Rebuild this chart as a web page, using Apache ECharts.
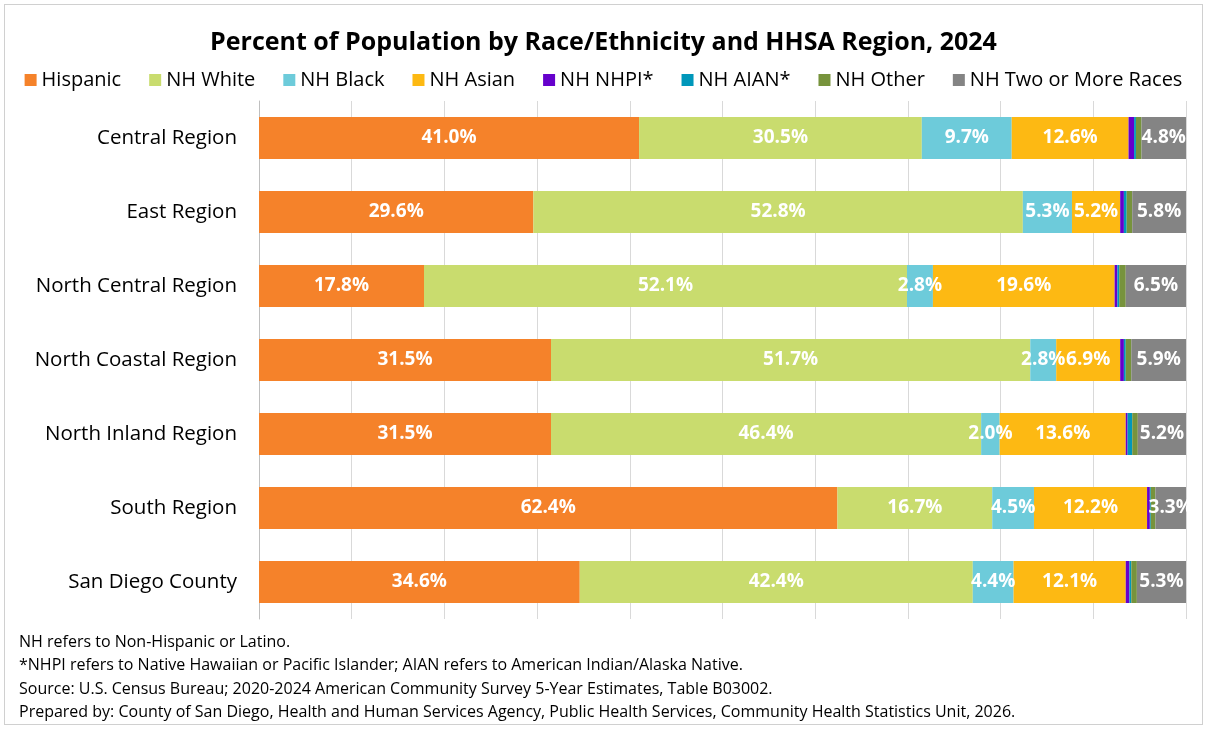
<!DOCTYPE html>
<html>
<head>
<meta charset="utf-8">
<style>
  html, body { margin: 0; padding: 0; background: #fff; }
  #chart { position: absolute; left: 4px; top: 4px; width: 1199px; height: 721px; border: 1px solid #d0d0d0; box-sizing: border-box; }
</style>
<script src="https://cdn.jsdelivr.net/npm/echarts@6/dist/echarts.min.js"></script>
</head>
<body>
<div id="chart"></div>
<script>
var categories = ['Central Region', 'East Region', 'North Central Region', 'North Coastal Region', 'North Inland Region', 'South Region', 'San Diego County'];
var hispanic = [41.0, 29.6, 17.8, 31.5, 31.5, 62.4, 34.6];
var nhWhite = [30.5, 52.8, 52.1, 51.7, 46.4, 16.7, 42.4];
var nhBlack = [9.7, 5.3, 2.8, 2.8, 2.0, 4.5, 4.4];
var nhAsian = [12.6, 5.2, 19.6, 6.9, 13.6, 12.2, 12.1];
var nhNhpi = [0.6, 0.4, 0.3, 0.4, 0.2, 0.3, 0.4];
var nhAian = [0.2, 0.3, 0.2, 0.2, 0.5, 0.1, 0.2];
var nhOther = [0.6, 0.6, 0.7, 0.6, 0.6, 0.5, 0.6];
var nhTwoPlus = [4.8, 5.8, 6.5, 5.9, 5.2, 3.3, 5.3];

var notes = [
    'NH refers to Non-Hispanic or Latino.',
    '*NHPI refers to Native Hawaiian or Pacific Islander; AIAN refers to American Indian/Alaska Native.',
    'Source: U.S. Census Bureau; 2020-2024 American Community Survey 5-Year Estimates, Table B03002.',
    'Prepared by: County of San Diego, Health and Human Services Agency, Public Health Services, Community Health Statistics Unit, 2026.'
];

var font = 'Open Sans';
var chart = echarts.init(document.getElementById('chart'));

var seriesDefs = [
    { name: 'Hispanic', data: hispanic, color: '#F5822A', label: true },
    { name: 'NH White', data: nhWhite, color: '#C9DC6E', label: true },
    { name: 'NH Black', data: nhBlack, color: '#6DCBDA', label: true },
    { name: 'NH Asian', data: nhAsian, color: '#FDB913', label: true },
    { name: 'NH NHPI*', data: nhNhpi, color: '#6600CC', label: false },
    { name: 'NH AIAN*', data: nhAian, color: '#0097BA', label: false },
    { name: 'NH Other', data: nhOther, color: '#77933C', label: false },
    { name: 'NH Two or More Races', data: nhTwoPlus, color: '#848484', label: true }
];

var series = seriesDefs.map(function (s) {
    return {
        name: s.name,
        type: 'bar',
        stack: 'total',
        barWidth: 42,
        data: s.data,
        itemStyle: { color: s.color },
        label: {
            show: s.label,
            position: 'inside',
            color: '#fff',
            fontFamily: font,
            fontWeight: 'bold',
            fontSize: 19,
            formatter: function (p) { return p.value.toFixed(1) + '%'; }
        }
    };
});

var graphics = notes.map(function (t, i) {
    return {
        type: 'text',
        left: 14,
        top: 629 + i * 23.5,
        style: { text: t, fontFamily: font, fontSize: 16, fill: '#000' }
    };
});

chart.setOption({
    animation: false,
    title: {
        text: 'Percent of Population by Race/Ethnicity and HHSA Region, 2024',
        left: 'center',
        top: 20,
        textStyle: { fontFamily: font, fontSize: 25, fontWeight: 'bold', color: '#000' }
    },
    legend: {
        top: 60,
        left: 'center',
        itemWidth: 12,
        itemHeight: 12,
        itemGap: 28,
        icon: 'rect',
        textStyle: { fontFamily: font, fontSize: 20, color: '#000' },
        data: seriesDefs.map(function (s) { return s.name; })
    },
    grid: { left: 254, right: 16, top: 96, bottom: 105 },
    xAxis: {
        type: 'value',
        min: 0,
        max: 100,
        interval: 10,
        axisLabel: { show: false },
        axisLine: { show: false },
        axisTick: { show: false },
        splitLine: { lineStyle: { color: '#d9d9d9', width: 1 } }
    },
    yAxis: {
        type: 'category',
        data: categories,
        inverse: true,
        axisLine: { lineStyle: { color: '#bfbfbf', width: 1 } },
        axisTick: { length: 5, lineStyle: { color: '#bfbfbf' } },
        axisLabel: { fontFamily: font, fontSize: 20.5, color: '#000', margin: 22 }
    },
    graphic: graphics,
    series: series
});
</script>
</body>
</html>
